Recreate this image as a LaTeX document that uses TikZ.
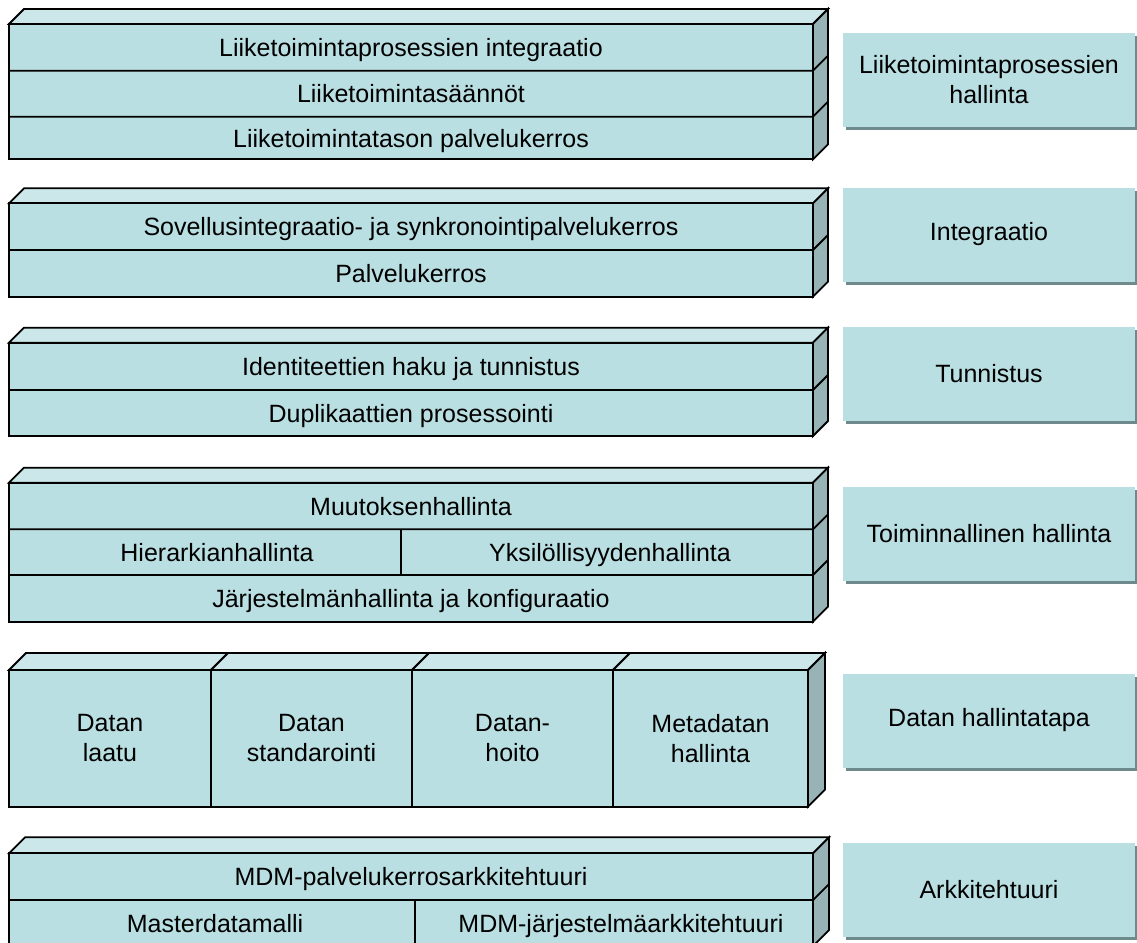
\documentclass[tikz,border=0pt]{standalone}
\usepackage{fontspec}
\setmainfont{Liberation Sans}
\usetikzlibrary{shadows}

\definecolor{facefront}{RGB}{185,223,226}
\definecolor{facetop}{RGB}{204,231,234}
\definecolor{faceside}{RGB}{151,179,181}
\definecolor{shadowcol}{RGB}{110,138,140}

\tikzset{
  edge/.style={draw=black, line width=1.8pt, line join=miter},
  lbl/.style={font=\fontsize{25}{30}\selectfont, inner sep=0pt,
              text height=18pt, text depth=0pt, anchor=center},
  lbltwo/.style={font=\fontsize{25}{30}\selectfont, inner sep=0pt,
                 align=center, anchor=center},
  tag/.style={fill=facefront, draw=none, minimum width=292pt, minimum height=94pt,
              inner sep=0pt, align=center, font=\fontsize{25}{30}\selectfont,
              drop shadow={shadow xshift=3pt, shadow yshift=-3pt,
                           fill=shadowcol, opacity=1}}
}

% top face of a front rectangle spanning x #1..#3 at top edge y #2, depth #4
\newcommand\topface[4]{%
  \filldraw[edge, fill=facetop] (#1,#2) -- (#1+#4,#2-#4) -- (#3+#4,#2-#4) -- (#3,#2) -- cycle;}
% right side face: front right edge x #1, from y #2 to #3, depth #4
\newcommand\sideface[4]{%
  \filldraw[edge, fill=faceside] (#1,#2) -- (#1+#4,#2-#4) -- (#1+#4,#3-#4) -- (#1,#3) -- cycle;}
% complete block: front (#1,#2)-(#3,#4), depth #5
\newcommand\block[5]{%
  \topface{#1}{#2}{#3}{#5}%
  \sideface{#3}{#2}{#4}{#5}%
  \filldraw[edge, fill=facefront] (#1,#2) rectangle (#3,#4);}
% horizontal division at y #1 running across the front and up the side
\newcommand\rowline[2]{%
  \draw[edge] (9,#1) -- (813,#1) -- ++(#2,-#2);}

\begin{document}
\begin{tikzpicture}[x=1pt, y=-1pt]
\useasboundingbox (0,0) rectangle (1137,942);

% ---- Liiketoimintaprosessien hallinta ----
\block{9}{24}{813}{159.3}{15}
\rowline{70.7}{15}
\rowline{116.7}{15}
\node[lbl] (b1a) at (411,47.3) {Liiketoimintaprosessien integraatio};
\node[lbl] (b1b) at (411,93.7) {Liiketoimintasäännöt};
\node[lbl] (b1c) at (411,138) {Liiketoimintatason palvelukerros};
\node[tag] (t1) at (989,80) {Liiketoimintaprosessien\\hallinta};

% ---- Integraatio ----
\block{9}{203.3}{813}{296.7}{15}
\rowline{250}{15}
\node[lbl] (b2a) at (411,226.7) {Sovellusintegraatio- ja synkronointipalvelukerros};
\node[lbl] (b2b) at (411,273.3) {Palvelukerros};
\node[tag] (t2) at (989,234.5) {Integraatio};

% ---- Tunnistus ----
\block{9}{342.7}{813}{436}{15}
\rowline{390}{15}
\node[lbl] (b3a) at (411,366.3) {Identiteettien haku ja tunnistus};
\node[lbl] (b3b) at (411,413) {Duplikaattien prosessointi};
\node[tag] (t3) at (989,374) {Tunnistus};

% ---- Toiminnallinen hallinta ----
\block{9}{482.7}{813}{621.7}{15}
\rowline{529.3}{15}
\rowline{575}{15}
\draw[edge] (401,529.3) -- (401,575);
\node[lbl] (b4a) at (411,506) {Muutoksenhallinta};
\node[lbl] (b4b) at (217,552.2) {Hierarkianhallinta};
\node[lbl] (b4c) at (610,552.2) {Yksilöllisyydenhallinta};
\node[lbl] (b4d) at (411,598.3) {Järjestelmänhallinta ja konfiguraatio};
\node[tag] (t4) at (989,534) {Toiminnallinen hallinta};

% ---- Datan hallintatapa: four separate blocks ----
\topface{9}{670}{211}{17}
\topface{211}{670}{412}{17}
\topface{412}{670}{613}{17}
\topface{613}{670}{808}{17}
\sideface{808}{670}{806.7}{17}
\filldraw[edge, fill=facefront] (9,670) rectangle (211,806.7);
\filldraw[edge, fill=facefront] (211,670) rectangle (412,806.7);
\filldraw[edge, fill=facefront] (412,670) rectangle (613,806.7);
\filldraw[edge, fill=facefront] (613,670) rectangle (808,806.7);
\node[lbltwo] (b5a) at (110,738.3) {Datan\\laatu};
\node[lbltwo] (b5b) at (311.5,738.3) {Datan\\standarointi};
\node[lbltwo] (b5c) at (512.5,738.3) {Datan-\\hoito};
\node[lbltwo] (b5d) at (710.5,738.3) {Metadatan\\hallinta};
\node[tag] (t5) at (989,720.5) {Datan hallintatapa};

% ---- Arkkitehtuuri ----
\block{9}{853.3}{813}{946}{16}
\rowline{900}{16}
\draw[edge] (415,900) -- (415,946);
\node[lbl] (b6a) at (411,876.7) {MDM-palvelukerrosarkkitehtuuri};
\node[lbl] (b6b) at (215,923) {Masterdatamalli};
\node[lbl] (b6c) at (621,923) {MDM-järjestelmäarkkitehtuuri};
\node[tag] (t6) at (989,889.5) {Arkkitehtuuri};

\end{tikzpicture}
\end{document}
